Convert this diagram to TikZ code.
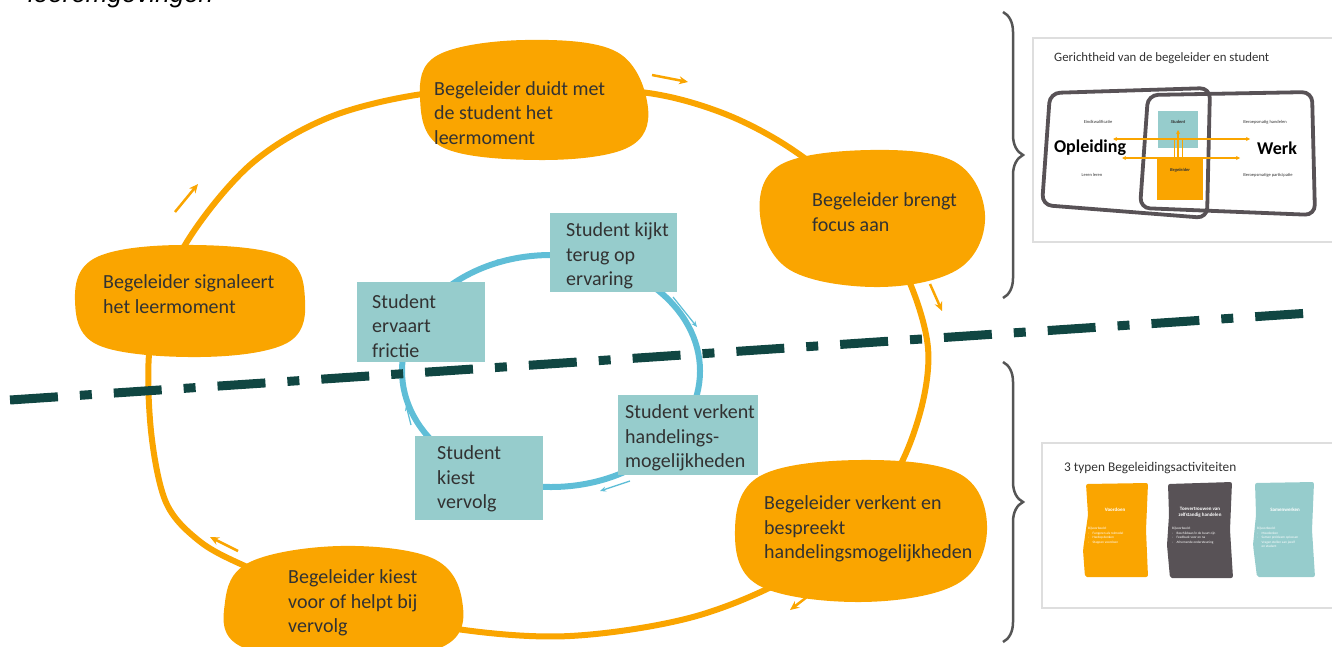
\documentclass[tikz,border=0pt]{standalone}
\usepackage{fontspec}
\setmainfont{Carlito}
\newfontfamily\arialfont{Liberation Sans}
\usetikzlibrary{decorations.pathreplacing,arrows.meta}
\definecolor{orng}{RGB}{250,165,0}
\definecolor{tealbox}{RGB}{150,204,204}
\definecolor{ringblue}{RGB}{95,190,215}
\definecolor{darkline}{RGB}{16,70,66}
\definecolor{txtgray}{RGB}{50,50,50}
\definecolor{framegray}{RGB}{88,82,86}
\definecolor{panelgray}{RGB}{222,222,222}
\definecolor{bracegray}{RGB}{85,85,85}
\begin{document}
\begin{tikzpicture}[x=1pt,y=-1pt,
  blobtxt/.style={anchor=west,align=left,inner sep=0pt,text=txtgray,font=\fontsize{20pt}{24.5pt}\selectfont},
  blobfill/.style={fill=orng},
  loopline/.style={draw=orng,line width=6pt},
  ringline/.style={draw=ringblue,line width=6pt},
  smallorange/.style={draw=orng,line width=2.5pt,-{Stealth[length=9pt,width=8pt]}},
  smallblue/.style={draw=ringblue,line width=1.3pt,-{Stealth[length=6pt,width=5pt]}},
  frameline/.style={draw=framegray,line width=3.8pt,rounded corners=10pt},
  tinytxt/.style={font=\fontsize{4.5pt}{5.5pt}\selectfont,text=txtgray,inner sep=0pt},
  cardtitle/.style={font=\bfseries\fontsize{5pt}{6pt}\selectfont,text=white,inner sep=0pt,align=center},
  cardtxt/.style={font=\fontsize{3.4pt}{4.6pt}\selectfont,text=white,inner sep=0pt,align=left,anchor=north west},
  bracestyle/.style={draw=bracegray,line width=2.5pt,decorate,decoration={brace,amplitude=20pt}},
  panelarrow/.style={draw=orng,line width=1.3pt,{Stealth[length=4pt,width=4pt]}-{Stealth[length=4pt,width=4pt]}}
]
\useasboundingbox (0,0) rectangle (1332,646);

% cut-off heading
\node[anchor=base west,inner sep=0pt,font=\arialfont\itshape\fontsize{26pt}{30pt}\selectfont] (head) at (28,2) {leeromgevingen};

% big orange loop
\draw[loopline] plot[smooth cycle,tension=0.55] coordinates {(530,92) (640,92) (720,112) (790,148) (860,205) (905,272) (928,348) (918,420) (885,490) (810,565) (700,615) (570,636) (450,628) (330,600) (245,566) (198,540) (165,500) (150,420) (152,330) (185,245) (250,165) (330,117) (430,93)};

% orange blobs
\fill[blobfill] plot[smooth cycle,tension=0.62] coordinates {(648,108) (627,148) (540,160) (442,147) (420,97) (438,55) (525,40) (617,52)};
\fill[blobfill] plot[smooth cycle,tension=0.62] coordinates {(985,215) (960,268) (880,287) (790,270) (760,215) (780,165) (870,150) (955,162)};
\fill[blobfill] plot[smooth cycle,tension=0.62] coordinates {(305,300) (287,343) (200,357) (98,345) (75,300) (95,258) (180,245) (282,256)};
\fill[blobfill] plot[smooth cycle,tension=0.62] coordinates {(987,530) (957,584) (860,602) (758,585) (735,530) (760,476) (860,460) (960,474)};
\fill[blobfill] plot[smooth cycle,tension=0.62] coordinates {(462,600) (446,645) (345,665) (240,646) (225,602) (250,562) (340,546) (432,558)};

\node[blobtxt] (b1) at (434,113) {Begeleider duidt met\\de student het\\leermoment};
\node[blobtxt] (b2) at (812,212) {Begeleider brengt\\focus aan};
\node[blobtxt] (b3) at (103,294) {Begeleider signaleert\\het leermoment};
\node[blobtxt] (b4) at (764,529) {Begeleider verkent en\\bespreekt\\handelingsmogelijkheden};
\node[blobtxt] (b5) at (288,603) {Begeleider kiest\\voor of helpt bij\\vervolg};

% small orange arrows
\coordinate (oa1) at (652,75); \coordinate (oa2) at (688,82);
\coordinate (ob1) at (175,212); \coordinate (ob2) at (198,184);
\coordinate (oc1) at (930,284); \coordinate (oc2) at (942,311);
\coordinate (od1) at (816,590); \coordinate (od2) at (790,610);
\coordinate (oe1) at (238,551); \coordinate (oe2) at (210,537);
\draw[smallorange] (oa1) -- (oa2);
\draw[smallorange] (ob1) -- (ob2);
\draw[smallorange] (oc1) -- (oc2);
\draw[smallorange] (od1) -- (od2);
\draw[smallorange] (oe1) -- (oe2);

% blue ring
\draw[ringline] (551,371) ellipse [x radius=149, y radius=116];
\coordinate (ba1) at (673,297); \coordinate (ba2) at (697,327);
\coordinate (bb1) at (630,481); \coordinate (bb2) at (600,491);
\coordinate (bc1) at (411,425); \coordinate (bc2) at (406,405);
\coordinate (bd1) at (486,265); \coordinate (bd2) at (503,260);
\draw[smallblue] (ba1) -- (ba2);
\draw[smallblue] (bb1) -- (bb2);
\draw[smallblue] (bc1) -- (bc2);
\draw[smallblue] (bd1) -- (bd2);

% teal boxes
\fill[tealbox] (550,213) rectangle (677,292);
\fill[tealbox] (357,282) rectangle (485,362);
\fill[tealbox] (618,395) rectangle (758,475);
\fill[tealbox] (415,436) rectangle (543,520);
\node[blobtxt] (s1) at (566,256) {Student kijkt\\terug op\\ervaring};
\node[blobtxt] (s2) at (372,326) {Student\\ervaart\\frictie};
\node[blobtxt] (s3) at (625,438) {Student verkent\\handelings-\\mogelijkheden};
\node[blobtxt] (s4) at (437,479) {Student\\kiest\\vervolg};

% dash-dot divider
\coordinate (dl1) at (10,400); \coordinate (dl2) at (1310,313);
\draw[darkline,line width=9pt,dash pattern=on 48pt off 22pt on 12pt off 22pt] (dl1) -- (dl2);

% braces
\draw[bracestyle] (1003,12) -- (1003,298);
\draw[bracestyle] (1003,362) -- (1003,642);

% panel 1
\draw[panelgray,line width=1.2pt] (1033,38) rectangle (1345,242);
\node[anchor=west,inner sep=0pt,text=txtgray,font=\fontsize{12.8pt}{14pt}\selectfont] (p1t) at (1054,58) {Gerichtheid van de begeleider en student};
\fill[tealbox] (1158,111) rectangle (1198,148);
\fill[orng] (1157,157) rectangle (1203,200);
\draw[frameline] (1050,93) -- (1210,88) -- (1207,218) -- (1042,205) -- cycle;
\draw[frameline] (1148,95) -- (1312,92) -- (1315,215) -- (1140,208) -- cycle;
\node[tinytxt,font=\bfseries\itshape\fontsize{4.5pt}{5.5pt}\selectfont] (pst) at (1178,122) {Student};
\node[tinytxt,font=\bfseries\itshape\fontsize{4.5pt}{5.5pt}\selectfont] (pbg) at (1180,170) {Begeleider};
\node[tinytxt] (pek) at (1098,122) {Eindkwalificatie};
\node[tinytxt] (pll) at (1092,175) {Leren leren};
\node[tinytxt] (pbh) at (1265,122) {Beroepsmatig handelen};
\node[tinytxt] (pbp) at (1268,175) {Beroepsmatige participatie};
\node[inner sep=0pt,font=\bfseries\fontsize{18pt}{20pt}\selectfont,text=black] (pop) at (1090,148) {Opleiding};
\node[inner sep=0pt,font=\bfseries\fontsize{18pt}{20pt}\selectfont,text=black] (pwk) at (1277,148) {Werk};
\coordinate (ph1) at (1113,139); \coordinate (ph2) at (1250,139);
\coordinate (ph3) at (1122,158); \coordinate (ph4) at (1240,158);
\draw[panelarrow] (ph1) -- (ph2);
\draw[panelarrow] (ph3) -- (ph4);
\coordinate (pv1) at (1178,160); \coordinate (pv2) at (1178,130);
\draw[draw=orng,line width=1.2pt,-{Stealth[length=4pt,width=4pt]}] (pv1) -- (pv2);
\draw[draw=orng,line width=1pt] (1174,160) -- (1174,139);
\draw[draw=orng,line width=1pt] (1182,160) -- (1182,139);

% panel 2
\draw[panelgray,line width=1.2pt] (1042,443) rectangle (1345,608);
\node[anchor=west,inner sep=0pt,text=txtgray,font=\fontsize{13.3pt}{15pt}\selectfont] (p2t) at (1064,468) {3 typen Begeleidingsactiviteiten};
\fill[orng,rounded corners=2pt] (1086,484) -- (1148,483) -- (1146,530) -- (1148,577) -- (1085,577) -- (1083,550) -- (1088,515) -- cycle;
\fill[framegray,rounded corners=2pt] (1168,484) -- (1232,482) -- (1230,530) -- (1233,578) -- (1170,578) -- (1167,545) -- (1169,515) -- cycle;
\fill[tealbox,rounded corners=2pt] (1255,483) -- (1314,482) -- (1312,530) -- (1315,577) -- (1257,577) -- (1253,545) -- (1256,515) -- cycle;
\node[cardtitle] (c1t) at (1115,510) {Voordoen};
\node[cardtitle] (c2t) at (1200,512) {Toevertrouwen van\\zelfstandig handelen};
\node[cardtitle] (c3t) at (1285,510) {Samenwerken};
\node[cardtxt] (c1x) at (1088,527) {Bijvoorbeeld:\\-\quad Fungeren als rolmodel\\-\quad Hardop denken\\-\quad Stappen voordoen};
\node[cardtxt] (c2x) at (1172,527) {Bijvoorbeeld:\\-\quad Beschikbaar/in de buurt zijn\\-\quad Feedback voor en na\\-\quad Afnemende ondersteuning};
\node[cardtxt] (c3x) at (1257,527) {Bijvoorbeeld:\\-\quad Meedenken\\-\quad Samen probleem oplossen\\\phantom{-}\quad Vragen stellen aan jezelf\\\phantom{-}\quad en student};
\end{tikzpicture}
\end{document}
